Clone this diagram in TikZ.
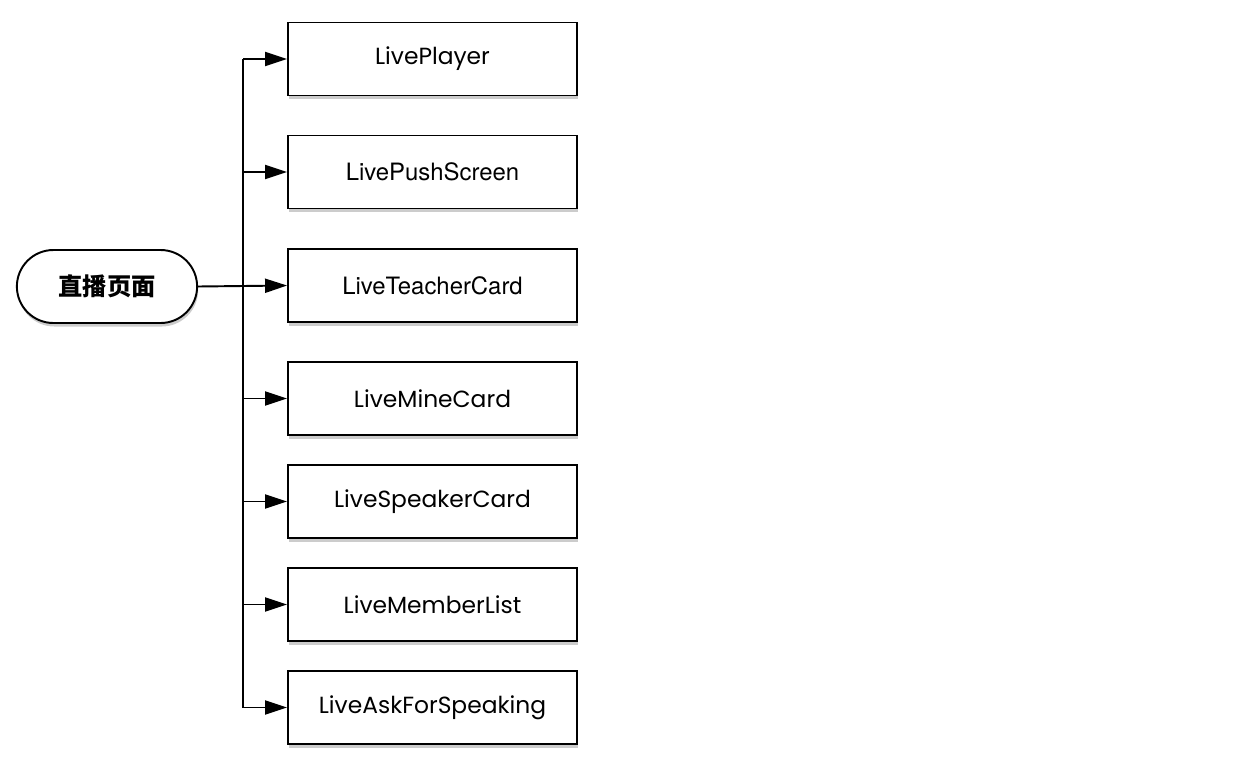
\documentclass[tikz,border=0pt]{standalone}
\usepackage{fontspec}
\setmainfont{Poppins}
\newfontfamily\heros{TeX Gyre Heros}
\newfontfamily\cjk{Noto Sans CJK SC}
\usetikzlibrary{shadows,arrows.meta,shapes.misc}
\tikzset{
  part/.style={draw, line width=1.1pt, fill=white, minimum width=5.78cm, minimum height=1.46cm,
    drop shadow={shadow xshift=0.6pt, shadow yshift=-2pt, opacity=0.4}, font=\fontsize{13.3}{16}\selectfont},
  page/.style={draw, line width=1.1pt, fill=white, rounded rectangle, minimum width=3.84cm, minimum height=1.46cm,
    drop shadow={shadow xshift=0.6pt, shadow yshift=-2pt, opacity=0.4}, font=\cjk\bfseries\fontsize{13.8}{16}\selectfont},
  link/.style={line width=1.1pt, -{Triangle[length=0.44cm,width=0.28cm]}}
}
\begin{document}
\begin{tikzpicture}[x=0.02cm,y=-0.02cm]
\useasboundingbox (0,0) rectangle (1238,772);
% root
\node[page] (live) at (107,286.5) {直播页面};
% children
\node[part] (player) at (432.5,59) {LivePlayer};
\node[part,font=\heros\fontsize{13.6}{16}\selectfont] (push) at (432.5,172) {LivePushScreen};
\node[part,font=\heros\fontsize{13.6}{16}\selectfont] (teacher) at (432.5,285.5) {LiveTeacherCard};
\node[part] (mine) at (432.5,398.5) {LiveMineCard};
\node[part] (speaker) at (432.5,501.5) {LiveSpeakerCard};
\node[part] (member) at (432.5,604.5) {LiveMemberList};
\node[part] (ask) at (432.5,707.5) {LiveAskForSpeaking};
% trunk
\coordinate (top) at (243,59);
\coordinate (bot) at (243,707.5);
\draw[line width=1.1pt] (top) -- (bot);
\draw[link] (live.east) -- (teacher.west);
\foreach \n in {player,push,mine,speaker,member,ask}
  \draw[link] (top |- \n.west) -- (\n.west);
\end{tikzpicture}
\end{document}
